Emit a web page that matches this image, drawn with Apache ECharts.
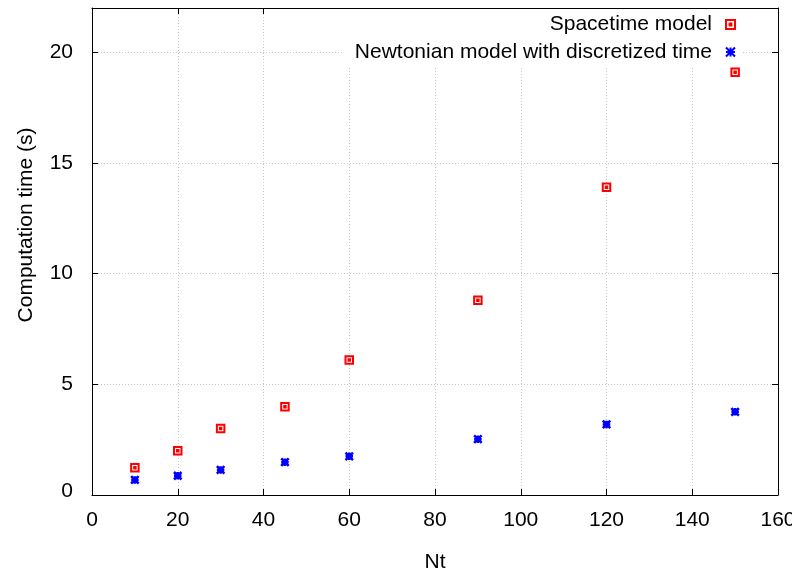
<!DOCTYPE html>
<html>
<head>
<meta charset="utf-8">
<script src="https://cdn.jsdelivr.net/npm/echarts@6/dist/echarts.min.js"></script>
<style>html,body{margin:0;padding:0;background:#fff;}#chart{width:792px;height:575px;}</style>
</head>
<body>
<div id="chart"></div>
<script>
const nt = [10, 20, 30, 45, 60, 90, 120, 150];
const spacetime = [1.23, 2.0, 3.0, 3.99, 6.1, 8.8, 13.9, 19.1];
const newtonian = [0.68, 0.87, 1.13, 1.48, 1.75, 2.52, 3.19, 3.76];
const seriesNames = ['Spacetime model', 'Newtonian model with discretized time'];
const xTicks = [0, 20, 40, 60, 80, 100, 120, 140, 160];
const yTicks = [0, 5, 10, 15, 20];

const FONT = '"Liberation Sans", Arial, sans-serif';
const FS = 21;
const chart = echarts.init(document.getElementById('chart'), null, {renderer: 'canvas'});
const sqPath = 'path://M0,0 H10 V10 H0 Z M4,4 H6 V6 H4 Z';
const starPath = 'path://M0,0 L10,10 M10,0 L0,10 M5,0 L5,10 M0,5 L10,5';

function axisCommon() {
  return {
    axisLine: {show: true, onZero: false, lineStyle: {color: '#000', width: 1}},
    axisTick: {show: true, inside: true, length: 6, lineStyle: {color: '#000'}},
  };
}

chart.setOption({
  animation: false,
  backgroundColor: '#fff',
  textStyle: {fontFamily: FONT},
  grid: {left: 92, right: 14, top: 8, bottom: 80, show: false, containLabel: false, outerBoundsMode: 'none'},
  graphic: [{
    type: 'rect', z: 1, silent: true,
    shape: {x: 342, y: 9, width: 400, height: 59},
    style: {fill: '#fff'}
  }],
  xAxis: [
    Object.assign(axisCommon(), {
      type: 'value', min: xTicks[0], max: xTicks[xTicks.length - 1], interval: 20,
      name: 'Nt', nameLocation: 'middle', nameGap: 57,
      nameTextStyle: {fontSize: FS, color: '#000', fontFamily: FONT},
      axisLabel: {fontSize: FS, color: '#000', margin: 15, fontFamily: FONT},
      splitLine: {show: true, lineStyle: {color: '#c8c8c8', type: [1, 2], width: 1}}
    }),
    Object.assign(axisCommon(), {
      type: 'value', position: 'top', min: xTicks[0], max: xTicks[xTicks.length - 1], interval: 20,
      axisLabel: {show: false}, splitLine: {show: false}
    })
  ],
  yAxis: [
    Object.assign(axisCommon(), {
      type: 'value', min: 0, max: 22, interval: 5,
      name: 'Computation time (s)', nameLocation: 'middle', nameGap: 55, nameRotate: 90,
      nameTextStyle: {fontSize: FS, color: '#000', fontFamily: FONT, padding: [0, 0, 0, 53]},
      axisLabel: {fontSize: FS, color: '#000', margin: 19, fontFamily: FONT,
        showMaxLabel: false,
        formatter: v => v === 0 ? '{lo|0}' : String(v),
        rich: {lo: {fontSize: FS, color: '#000', fontFamily: FONT, padding: [0, 0, 7, 0]}}},
      splitLine: {show: true, lineStyle: {color: '#c8c8c8', type: [1, 2], width: 1}}
    }),
    Object.assign(axisCommon(), {
      type: 'value', position: 'right', min: 0, max: 22, interval: 5,
      axisLabel: {show: false}, splitLine: {show: false}
    })
  ],
  legend: [
    {
      data: [seriesNames[0]], right: 56, top: 14, align: 'right', orient: 'vertical',
      itemWidth: 9, itemHeight: 9, padding: 0,
      textStyle: {fontSize: FS, color: '#000', fontFamily: FONT, padding: [0, 9, 0, 0]}
    },
    {
      data: [seriesNames[1]], right: 56, top: 41.5, align: 'right', orient: 'vertical',
      itemWidth: 9, itemHeight: 9, padding: 0,
      textStyle: {fontSize: FS, color: '#000', fontFamily: FONT, padding: [0, 9, 0, 0]}
    }
  ],
  series: [
    {
      name: seriesNames[0], type: 'scatter', xAxisIndex: 0, yAxisIndex: 0, z: 3,
      symbol: sqPath, symbolSize: 7.5,
      itemStyle: {color: '#fff', borderColor: '#ff0000', borderWidth: 2, opacity: 1},
      data: nt.map((x, i) => [x, spacetime[i]])
    },
    {
      name: seriesNames[1], type: 'scatter', xAxisIndex: 0, yAxisIndex: 0, z: 3,
      symbol: starPath, symbolSize: 7.5,
      itemStyle: {color: 'transparent', borderColor: '#0000ff', borderWidth: 2.5, opacity: 1},
      data: nt.map((x, i) => [x, newtonian[i]])
    }
  ]
});
</script>
</body>
</html>
